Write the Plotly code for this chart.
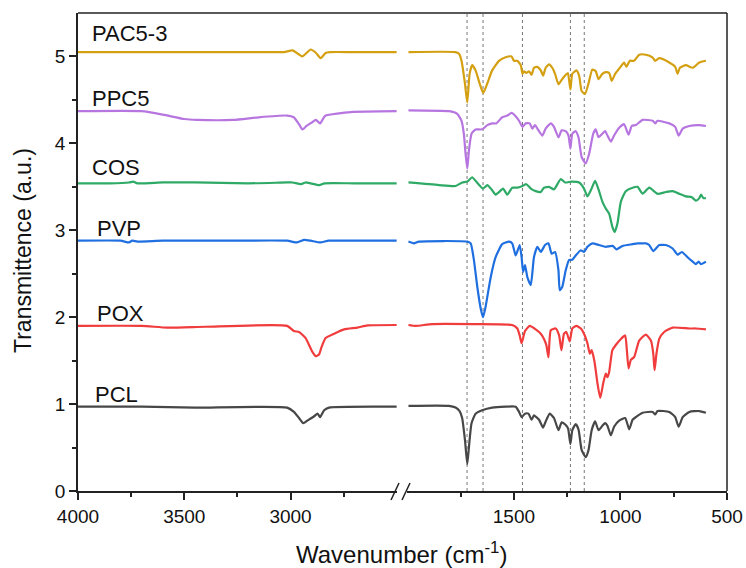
import plotly.graph_objects as go

# ---------------- data (wavenumber cm-1, transmittance offset a.u.) ----------------
# Left segment 4000-2500, right segment 2000-600
pac_wl = [4000, 3700, 3400, 3100, 3030, 2990, 2945, 2905, 2880, 2858, 2835, 2815, 2700, 2500]
pac_vl = [5.05, 5.05, 5.05, 5.05, 5.05, 5.07, 5.00, 5.08, 5.04, 4.98, 5.04, 5.05, 5.05, 5.05]
pac_wr = [1995, 1775, 1758, 1746, 1730, 1719, 1708, 1696, 1680, 1661, 1644, 1625, 1602, 1570, 1539,
          1511, 1500, 1484, 1468, 1460, 1453, 1442, 1429, 1417, 1406, 1390, 1374, 1363, 1351, 1335,
          1320, 1307, 1291, 1276, 1260, 1247, 1235, 1226, 1207, 1194, 1182, 1166, 1150, 1132, 1116,
          1103, 1085, 1069, 1053, 1041, 1025, 1006, 983, 972, 956, 936, 912, 881, 850, 837, 818,
          771, 743, 732, 721, 693, 661, 630, 599]
pac_vr = [5.05, 5.05, 5.03, 4.95, 4.69, 4.47, 4.80, 4.90, 4.84, 4.69, 4.58, 4.69, 4.84, 4.95, 4.99,
          5.00, 4.95, 4.95, 4.90, 4.80, 4.83, 4.81, 4.83, 4.79, 4.87, 4.88, 4.84, 4.78, 4.87, 4.91,
          4.87, 4.80, 4.68, 4.73, 4.78, 4.81, 4.62, 4.80, 4.84, 4.78, 4.60, 4.57, 4.69, 4.85, 4.83,
          4.74, 4.80, 4.82, 4.81, 4.72, 4.80, 4.86, 4.93, 4.88, 4.95, 4.95, 5.02, 5.02, 4.99, 4.95, 4.98,
          4.93, 4.88, 4.80, 4.87, 4.90, 4.87, 4.93, 4.95]

ppc_wl = [4000, 3700, 3600, 3500, 3440, 3270, 3150, 3016, 2985, 2960, 2944, 2925, 2900, 2881, 2861, 2845, 2835, 2717, 2500]
ppc_vl = [4.37, 4.37, 4.33, 4.28, 4.27, 4.27, 4.30, 4.32, 4.30, 4.22, 4.16, 4.20, 4.24, 4.27, 4.23, 4.29, 4.32, 4.36, 4.37]
ppc_wr = [1995, 1805, 1766, 1746, 1735, 1727, 1719, 1711, 1699, 1680, 1656, 1644, 1625, 1602, 1583,
          1555, 1531, 1511, 1495, 1476, 1460, 1445, 1426, 1414, 1401, 1390, 1367, 1351, 1327, 1312,
          1291, 1276, 1257, 1244, 1235, 1226, 1210, 1197, 1182, 1163, 1147, 1128, 1116, 1103, 1085,
          1072, 1061, 1045, 1030, 1006, 983, 962, 947, 928, 896, 849, 837, 826, 771, 743, 727, 708,
          677, 630, 599]
ppc_vr = [4.38, 4.37, 4.34, 4.26, 4.11, 3.88, 3.71, 3.92, 4.11, 4.16, 4.16, 4.17, 4.21, 4.23, 4.23,
          4.30, 4.32, 4.35, 4.32, 4.26, 4.19, 4.23, 4.23, 4.17, 4.21, 4.17, 4.09, 4.17, 4.23, 4.19,
          4.07, 4.15, 4.14, 4.09, 3.94, 4.11, 4.14, 4.07, 3.84, 3.77, 3.88, 4.11, 4.16, 4.07, 4.11,
          4.14, 4.09, 4.02, 4.09, 4.18, 4.22, 4.10, 4.20, 4.21, 4.27, 4.26, 4.23, 4.26, 4.23, 4.19, 4.09, 4.17,
          4.20, 4.21, 4.20]

cos_wl = [4000, 3850, 3760, 3740, 3720, 3600, 3450, 3200, 3016, 2990, 2950, 2930, 2905, 2865, 2840, 2700, 2500]
cos_vl = [3.54, 3.54, 3.55, 3.56, 3.54, 3.55, 3.55, 3.54, 3.55, 3.55, 3.53, 3.55, 3.54, 3.52, 3.54, 3.54, 3.54]
cos_wr = [1995, 1852, 1774, 1743, 1719, 1696, 1677, 1645, 1625, 1605, 1586, 1570, 1551, 1531, 1508,
          1484, 1460, 1442, 1421, 1398, 1374, 1359, 1335, 1312, 1280, 1260, 1229, 1194, 1171, 1155,
          1139, 1119, 1103, 1085, 1069, 1053, 1038, 1027, 1014, 998, 975, 943, 920, 896, 865, 826,
          787, 755, 724, 693, 665, 646, 630, 622, 611, 599]
cos_vr = [3.55, 3.52, 3.51, 3.55, 3.56, 3.61, 3.56, 3.48, 3.52, 3.47, 3.41, 3.44, 3.48, 3.41, 3.49,
          3.49, 3.51, 3.53, 3.48, 3.45, 3.44, 3.49, 3.50, 3.47, 3.59, 3.55, 3.56, 3.55, 3.48, 3.39,
          3.46, 3.57, 3.47, 3.33, 3.25, 3.19, 3.04, 2.98, 3.08, 3.33, 3.45, 3.49, 3.50, 3.42, 3.49, 3.42,
          3.44, 3.45, 3.42, 3.39, 3.38, 3.34, 3.37, 3.41, 3.37, 3.37]

pvp_wl = [4000, 3800, 3760, 3745, 3720, 3600, 3300, 3016, 2970, 2935, 2905, 2860, 2820, 2700, 2500]
pvp_vl = [2.88, 2.88, 2.86, 2.88, 2.87, 2.88, 2.88, 2.88, 2.86, 2.89, 2.88, 2.86, 2.88, 2.88, 2.88]
pvp_wr = [1995, 1970, 1946, 1719, 1703, 1688, 1672, 1656, 1645, 1633, 1609, 1586, 1555, 1523, 1508,
          1492, 1473, 1464, 1457, 1448, 1437, 1421, 1406, 1390, 1374, 1354, 1338, 1323, 1307, 1291,
          1285, 1273, 1257, 1241, 1226, 1210, 1186, 1171, 1155, 1132, 1100, 1069, 1037, 1019, 991,
          943, 920, 896, 881, 865, 846, 818, 787, 755, 732, 712, 685, 661, 646, 633, 622, 599]
pvp_vr = [2.87, 2.85, 2.87, 2.87, 2.85, 2.66, 2.35, 2.10, 2.00, 2.12, 2.46, 2.69, 2.84, 2.87, 2.85,
          2.71, 2.83, 2.69, 2.52, 2.60, 2.46, 2.37, 2.69, 2.81, 2.75, 2.83, 2.85, 2.73, 2.75, 2.54,
          2.31, 2.35, 2.54, 2.66, 2.66, 2.71, 2.77, 2.75, 2.81, 2.85, 2.83, 2.81, 2.82, 2.78, 2.82,
          2.84, 2.85, 2.85, 2.85, 2.83, 2.76, 2.83, 2.83, 2.79, 2.72, 2.75, 2.69, 2.64, 2.61, 2.64, 2.61, 2.64]

pox_wl = [4000, 3700, 3580, 3400, 3016, 2984, 2960, 2929, 2897, 2881, 2866, 2855, 2835, 2795, 2748, 2685, 2638, 2500]
pox_vl = [1.90, 1.90, 1.88, 1.89, 1.90, 1.84, 1.83, 1.76, 1.60, 1.55, 1.57, 1.65, 1.76, 1.81, 1.86, 1.88, 1.905, 1.91]
pox_wr = [1995, 1962, 1884, 1696, 1508, 1484, 1473, 1464, 1448, 1426, 1398, 1374, 1359, 1348, 1338,
          1327, 1304, 1288, 1277, 1265, 1254, 1238, 1226, 1207, 1186, 1171, 1155, 1144, 1135, 1122,
          1108, 1095, 1081, 1069, 1061, 1053, 1038, 1022, 998, 978, 970, 962, 951, 936, 912, 881,
          857, 846, 840, 831, 818, 795, 755, 677, 646, 599]
pox_vr = [1.91, 1.90, 1.92, 1.92, 1.91, 1.87, 1.79, 1.70, 1.84, 1.90, 1.86, 1.81, 1.75, 1.68, 1.54,
          1.85, 1.87, 1.79, 1.62, 1.81, 1.83, 1.72, 1.87, 1.90, 1.87, 1.81, 1.70, 1.58, 1.62, 1.49,
          1.24, 1.07, 1.24, 1.35, 1.31, 1.37, 1.62, 1.68, 1.75, 1.79, 1.62, 1.41, 1.51, 1.54, 1.73, 1.80,
          1.73, 1.58, 1.39, 1.58, 1.75, 1.83, 1.88, 1.87, 1.87, 1.86]

pcl_wl = [4000, 3700, 3450, 3016, 2984, 2960, 2940, 2921, 2889, 2873, 2861, 2842, 2819, 2500]
pcl_vl = [0.97, 0.97, 0.96, 0.96, 0.91, 0.84, 0.78, 0.81, 0.86, 0.89, 0.85, 0.93, 0.96, 0.97]
pcl_wr = [1995, 1805, 1774, 1755, 1743, 1730, 1719, 1711, 1699, 1680, 1649, 1602, 1539, 1492, 1476,
          1464, 1448, 1432, 1417, 1406, 1395, 1382, 1363, 1351, 1332, 1312, 1291, 1276, 1257, 1246,
          1235, 1226, 1210, 1197, 1182, 1163, 1150, 1135, 1119, 1103, 1085, 1072, 1061, 1045, 1030,
          1006, 978, 959, 943, 928, 896, 849, 837, 826, 771, 743, 727, 708, 677, 630, 599]
pcl_vr = [0.98, 0.98, 0.96, 0.92, 0.84, 0.59, 0.31, 0.51, 0.78, 0.89, 0.93, 0.96, 0.97, 0.97, 0.91,
          0.85, 0.89, 0.89, 0.82, 0.87, 0.85, 0.82, 0.73, 0.80, 0.89, 0.84, 0.70, 0.79, 0.76, 0.72,
          0.54, 0.70, 0.77, 0.71, 0.47, 0.39, 0.47, 0.70, 0.80, 0.70, 0.75, 0.78, 0.75, 0.64, 0.74,
          0.81, 0.84, 0.71, 0.82, 0.85, 0.90, 0.91, 0.88, 0.92, 0.91, 0.85, 0.74, 0.85, 0.91, 0.92, 0.90]

names = ["PAC5-3", "PPC5", "COS", "PVP", "POX", "PCL"]
colors = ["#D4A012", "#B775E0", "#2EAA66", "#1F6FE0", "#F03C3C", "#474747"]
series = [(pac_wl, pac_vl, pac_wr, pac_vr), (ppc_wl, ppc_vl, ppc_wr, ppc_vr),
          (cos_wl, cos_vl, cos_wr, cos_vr), (pvp_wl, pvp_vl, pvp_wr, pvp_vr),
          (pox_wl, pox_vl, pox_wr, pox_vr), (pcl_wl, pcl_vl, pcl_wr, pcl_vr)]
marker_lines = [1720, 1645, 1460, 1235, 1170]

# label positions (paper coords) for series names
label_pos = [(0.0185, 0.958), (0.0185, 0.822), (0.0185, 0.676), (0.026, 0.550), (0.026, 0.372), (0.023, 0.201)]

FONT = "Liberation Sans, Arial, sans-serif"
AX = "#222222"

fig = go.Figure()
for (wl, vl, wr, vr), c in zip(series, colors):
    fig.add_trace(go.Scatter(x=wl, y=vl, xaxis="x", yaxis="y", mode="lines",
                             line=dict(color=c, width=2.2, shape="spline", smoothing=0.5),
                             showlegend=False, hoverinfo="skip"))
    fig.add_trace(go.Scatter(x=wr, y=vr, xaxis="x2", yaxis="y", mode="lines",
                             line=dict(color=c, width=2.2, shape="spline", smoothing=0.5),
                             showlegend=False, hoverinfo="skip"))

shapes = []
for w in marker_lines:
    shapes.append(dict(type="line", xref="x2", yref="paper", x0=w, x1=w, y0=0, y1=1,
                       line=dict(color="#777777", width=1, dash="dot"), layer="below"))
# frame: top and right border
shapes.append(dict(type="line", xref="paper", yref="paper", x0=0, x1=1, y0=1, y1=1,
                   line=dict(color=AX, width=1.5)))
shapes.append(dict(type="line", xref="paper", yref="paper", x0=1, x1=1, y0=0, y1=1,
                   line=dict(color=AX, width=1.5)))
# axis break marks
PW, PH, L, B = 649.0, 478.0, 78.0, 491.0
def px(xp):
    return (xp - L) / PW
def py(yp):
    return (B - yp) / PH
for (xa, ya, xb, yb) in [(391, 500, 399, 483), (402, 500, 410, 483)]:
    shapes.append(dict(type="line", xref="paper", yref="paper", x0=px(xa), y0=py(ya), x1=px(xb), y1=py(yb),
                       line=dict(color=AX, width=1.5)))

annotations = []
for n, (ax_, ay_) in zip(names, label_pos):
    annotations.append(dict(text=n, x=ax_, y=ay_, xref="paper", yref="paper", xanchor="left", yanchor="middle",
                            showarrow=False, font=dict(family=FONT, size=22, color="#111111")))
annotations.append(dict(text="Wavenumber (cm<sup>-1</sup>)", x=px(401), y=py(553), xref="paper", yref="paper",
                        xanchor="center", yanchor="middle", showarrow=False,
                        font=dict(family=FONT, size=24, color="#111111")))
annotations.append(dict(text="Transmittence (a.u.)", x=px(23), y=py(251), xref="paper", yref="paper",
                        xanchor="center", yanchor="middle", textangle=-90, showarrow=False,
                        font=dict(family=FONT, size=23, color="#111111")))

common_x = dict(showline=True, linecolor=AX, linewidth=1.5, ticks="outside", ticklen=7, tickwidth=1.5,
                tickcolor=AX, showgrid=False, zeroline=False, automargin=False,
                tickfont=dict(family=FONT, size=19, color="#111111"))

fig.update_layout(
    width=746, height=568,
    margin=dict(l=78, r=19, t=13, b=77, autoexpand=False),
    paper_bgcolor="white", plot_bgcolor="white",
    hovermode=False,
    xaxis=dict(domain=[0, px(396.8)], range=[4000, 2500], anchor="y",
               tickmode="array", tickvals=[4000, 3500, 3000],
               minor=dict(tickmode="array", tickvals=[3750, 3250, 2750], ticks="outside", ticklen=4,
                          tickwidth=1.5, tickcolor=AX),
               **common_x),
    xaxis2=dict(domain=[px(407.4), 1], range=[2000, 500], anchor="y",
                tickmode="array", tickvals=[1500, 1000, 500],
                minor=dict(tickmode="array", tickvals=[1750, 1250, 750], ticks="outside", ticklen=4,
                           tickwidth=1.5, tickcolor=AX),
                **common_x),
    yaxis=dict(range=[0, 5.5], tickmode="array", tickvals=[0, 1, 2, 3, 4, 5],
               minor=dict(tickmode="array", tickvals=[0.5, 1.5, 2.5, 3.5, 4.5], ticks="outside", ticklen=4,
                          tickwidth=1.5, tickcolor=AX),
               **common_x),
    shapes=shapes,
    annotations=annotations,
)

fig.write_html("out.html")
